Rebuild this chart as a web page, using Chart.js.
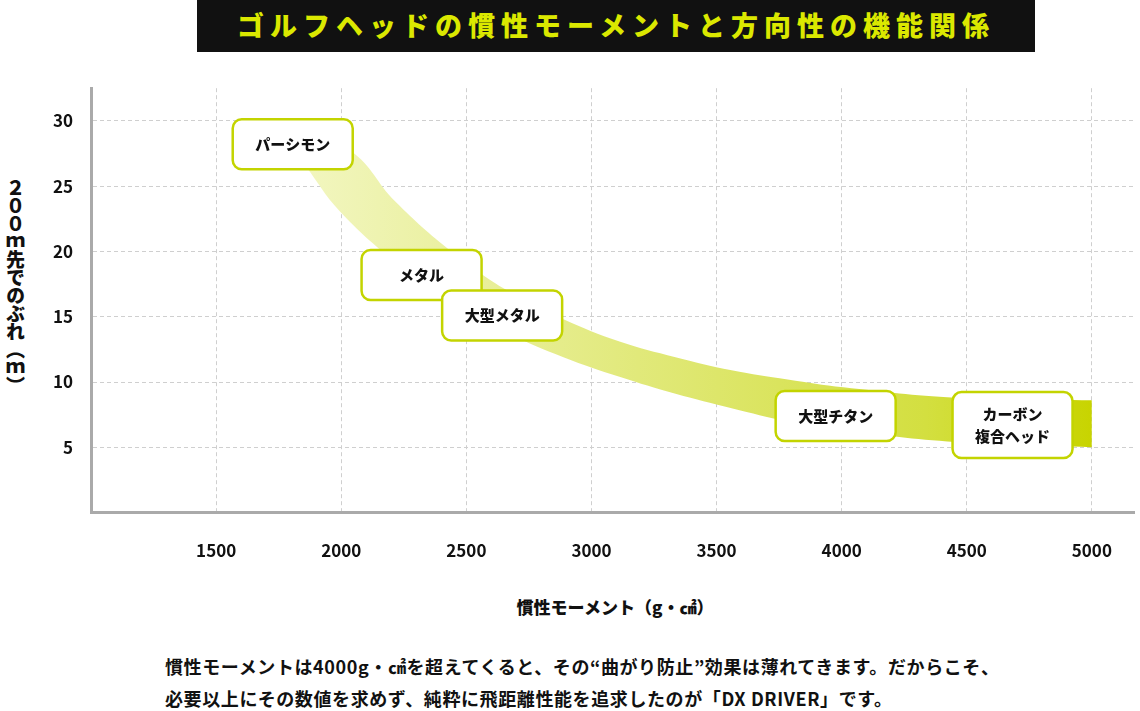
<!DOCTYPE html>
<html><head><meta charset="utf-8">
<script src="https://cdn.jsdelivr.net/npm/chart.js@4"></script>
<style>
body{margin:0;width:1140px;height:711px;background:#fff;font-family:"Noto Sans CJK JP",sans-serif;position:relative;overflow:hidden}
#title{position:absolute;left:197px;top:0;width:838px;height:52px;background:#111;color:#dbe800;font-weight:900;font-size:27px;letter-spacing:6px;text-align:center;line-height:50px}
#ytitle{position:absolute;left:2px;top:178px;writing-mode:vertical-rl;text-orientation:upright;font-weight:900;font-size:19px;letter-spacing:-1px;color:#111}
#xtitle{position:absolute;left:0;width:1230px;top:594px;text-align:center;font-weight:900;font-size:17px;color:#111}
#note{position:absolute;left:165px;top:650px;font-size:18px;font-weight:700;line-height:32px;color:#111;white-space:nowrap;letter-spacing:0.6px}
#wrap{position:absolute;left:0;top:60px;width:1140px;height:530px}
</style></head><body>
<div id="title">ゴルフヘッドの慣性モーメントと方向性の機能関係</div>
<div id="ytitle">２００ｍ先でのぶれ（ｍ）</div>
<div id="xtitle">慣性モーメント（g・㎠）</div>
<div id="note">慣性モーメントは4000g・㎠を超えてくると、その“曲がり防止”効果は薄れてきます。だからこそ、<br>必要以上にその数値を求めず、純粋に飛距離性能を追求したのが「DX DRIVER」です。</div>
<div id="wrap"><canvas id="c"></canvas></div>
<script>
const xTicks=[1000,1500,2000,2500,3000,3500,4000,4500,5000];
const yTicks=[0,5,10,15,20,25,30];
const upperX=[1859,2038,2217,2440,2664,2888,3112,3336,3560,3784,4007,4455,5000];
const upperY=[28.6,27.7,23.8,20.0,17.0,14.8,13.1,11.9,10.9,10.2,9.6,8.8,8.6];
const lowerX=[1859,1993,2217,2440,2664,2888,3112,3336,3560,3784,4007,4455,5000];
const lowerY=[26.5,23.1,19.2,16.3,13.8,11.9,10.4,9.1,8.0,7.0,6.3,5.4,5.0];
const labelText=[["パーシモン"],["メタル"],["大型メタル"],["大型チタン"],["カーボン","複合ヘッド"]];
const labelX=[1806,2321,2643,3976,4683];
const labelY=[28.2,18.2,15.1,7.4,6.7];
const labelW=[120,120,120,120,120];
const labelH=[50,50,50,50,66];

function grad(ctx){const ca=ctx.chart.chartArea;if(!ca)return '#dde66a';
 const g=ctx.chart.ctx.createLinearGradient(ca.left,0,ca.right,0);
 g.addColorStop(0.2,'#f2f6c0');g.addColorStop(0.6,'#dde66a');g.addColorStop(0.8,'#d3df40');g.addColorStop(0.96,'#c8d400');return g;}
const boxes={id:'boxes',afterDatasetsDraw(ch){const c=ch.ctx,xs=ch.scales.x,ys=ch.scales.y;
 labelText.forEach((t,i)=>{const cx=xs.getPixelForValue(labelX[i]),cy=ys.getPixelForValue(labelY[i]);
  const w=labelW[i],h=labelH[i];c.save();c.beginPath();c.roundRect(cx-w/2,cy-h/2,w,h,9);
  c.fillStyle='#fff';c.fill();c.lineWidth=2.5;c.strokeStyle='#c3d400';c.stroke();
  c.fillStyle='#111';c.font='900 15px "Noto Sans CJK JP"';c.textAlign='center';c.textBaseline='middle';
  t.forEach((s,j)=>c.fillText(s,cx,cy+(j-(t.length-1)/2)*22));c.restore();});}};
new Chart(document.getElementById('c'),{type:'line',
 data:{datasets:[
  {data:lowerX.map((x,i)=>({x,y:lowerY[i]})),borderWidth:0,pointRadius:0,tension:0.4,fill:false},
  {data:upperX.map((x,i)=>({x,y:upperY[i]})),borderWidth:0,pointRadius:0,tension:0.4,fill:'-1',backgroundColor:grad}]},
 options:{responsive:true,maintainAspectRatio:false,animation:false,
  layout:{padding:{left:35,right:2,top:8,bottom:1}},
  plugins:{legend:{display:false},tooltip:{enabled:false}},
  scales:{
   x:{type:'linear',min:1000,max:5170,afterBuildTicks(a){a.ticks=xTicks.map(v=>({value:v}))},
    ticks:{callback:v=>v===1000?'':v,color:'#111',font:{size:17,weight:'bold',family:'"Noto Sans CJK JP"'},padding:28,maxRotation:0},
    grid:{color:'#cfcfcf',drawTicks:false,tickLength:0},border:{color:'#aaa',width:3,dash:[4,3]}},
   y:{min:0,max:32.5,afterBuildTicks(a){a.ticks=yTicks.map(v=>({value:v}))},
    ticks:{callback:v=>v===0?'':v,color:'#111',font:{size:17,weight:'bold',family:'"Noto Sans CJK JP"'},padding:18},
    grid:{color:'#cfcfcf',drawTicks:false},border:{color:'#aaa',width:3,dash:[4,3]}}}},
 plugins:[boxes]});
</script></body></html>
